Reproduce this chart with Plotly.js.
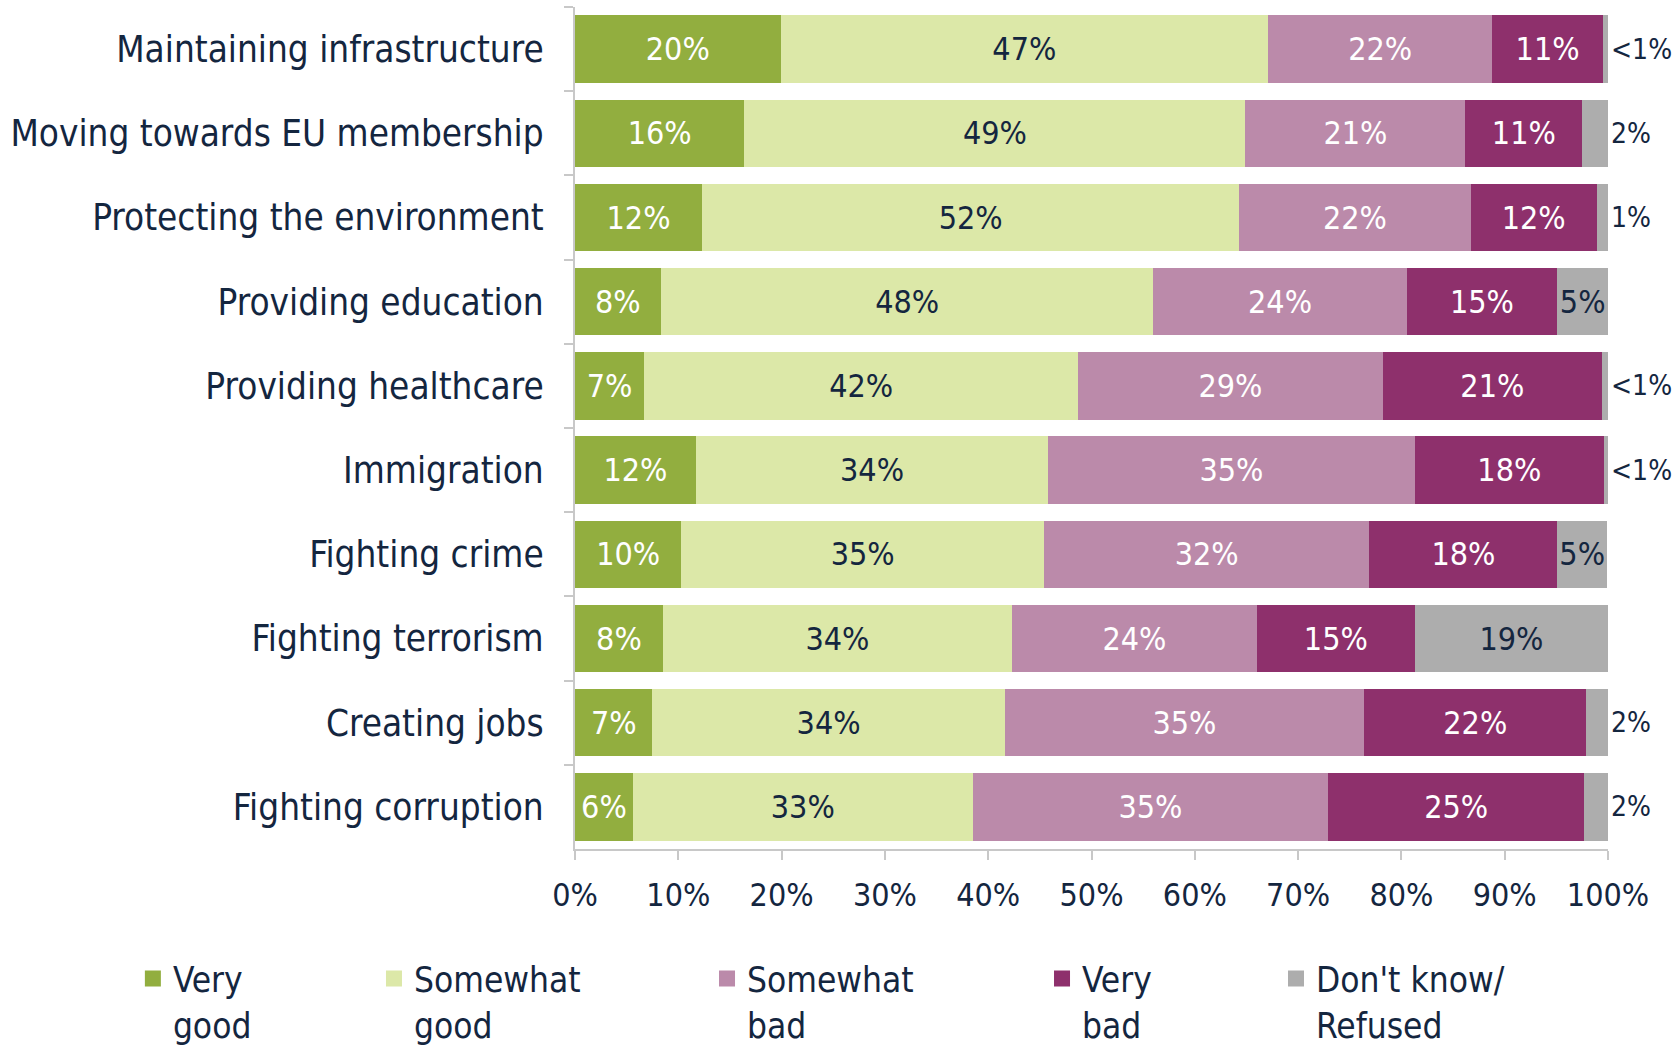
<!DOCTYPE html>
<html>
<head>
<meta charset="utf-8">
<script src="https://cdn.plot.ly/plotly-3.0.1.min.js"></script>
<style>html,body{margin:0;padding:0;background:#fff;}#chart{width:1675px;height:1047px;}</style>
</head>
<body>
<div id="chart"></div>
<script>
const categories = ["Maintaining infrastructure","Moving towards EU membership","Protecting the environment","Providing education","Providing healthcare","Immigration","Fighting crime","Fighting terrorism","Creating jobs","Fighting corruption"];

const veryGood     = [19.9, 16.4, 12.3, 8.3, 6.7, 11.7, 10.3, 8.5, 7.5, 5.6];
const somewhatGood = [47.2, 48.5, 52.0, 47.7, 42.0, 34.1, 35.1, 33.8, 34.1, 32.9];
const somewhatBad  = [21.7, 21.3, 22.4, 24.5, 29.5, 35.5, 31.5, 23.7, 34.8, 34.4];
const veryBad      = [10.7, 11.3, 12.2, 14.6, 21.2, 18.3, 18.2, 15.3, 21.5, 24.8];
const dontKnow     = [0.5, 2.5, 1.1, 4.9, 0.6, 0.4, 4.8, 18.7, 2.1, 2.3];

const veryGoodLabels     = ["20%","16%","12%","8%","7%","12%","10%","8%","7%","6%"];
const somewhatGoodLabels = ["47%","49%","52%","48%","42%","34%","35%","34%","34%","33%"];
const somewhatBadLabels  = ["22%","21%","22%","24%","29%","35%","32%","24%","35%","35%"];
const veryBadLabels      = ["11%","11%","12%","15%","21%","18%","18%","15%","22%","25%"];
const dontKnowLabels     = ["<1%","2%","1%","5%","<1%","<1%","5%","19%","2%","2%"];

const xTickVals = [0,10,20,30,40,50,60,70,80,90,100];
const xTickText = ["0%","10%","20%","30%","40%","50%","60%","70%","80%","90%","100%"];

const seriesNames = ["Very<br>good","Somewhat<br>good","Somewhat<br>bad","Very<br>bad","Don't know/<br>Refused"];

const FONT = "'DejaVu Sans Condensed', 'Liberation Sans Narrow', 'Noto Sans', sans-serif";
const NAVY = "#14263f";
const colors = ["#92ae3f","#dce8a8","#bb8aaa","#8e306c","#adadad"];
const textColors = ["#ffffff", NAVY, "#ffffff", "#ffffff", NAVY];

const vals = [veryGood, somewhatGood, somewhatBad, veryBad, dontKnow];
const labs = [veryGoodLabels, somewhatGoodLabels, somewhatBadLabels, veryBadLabels, dontKnowLabels];
const legendIds = ["legend","legend2","legend3","legend4","legend5"];

const traces = vals.map((v, i) => {
  const t = {
    type: "bar",
    orientation: "h",
    name: seriesNames[i],
    x: v,
    y: categories,
    text: labs[i],
    textposition: "inside",
    insidetextanchor: "middle",
    textangle: 0,
    constraintext: "none",
    cliponaxis: false,
    textfont: {family: FONT, size: 32, color: textColors[i]},
    insidetextfont: {family: FONT, size: 32, color: textColors[i]},
    outsidetextfont: {family: FONT, size: 28, color: NAVY},
    marker: {color: colors[i], line: {width: 0}},
    showlegend: false,
    hoverinfo: "none"
  };
  if (i === 4) {
    t.textposition = v.map(x => x >= 4 ? "inside" : "outside");
  }
  return t;
});

// legend entries (square keys like the reference)
seriesNames.forEach((n, i) => {
  traces.push({
    type: "scatter", mode: "markers",
    name: n, x: [null], y: [null],
    marker: {symbol: "square", size: 19, color: colors[i]},
    legend: legendIds[i], showlegend: true, hoverinfo: "none"
  });
});

const legendX = [-0.428, -0.1946, 0.1278, 0.4521, 0.6786];
const legendY = -0.119;
function mkLegend(x) {
  return {
    x: x, y: legendY, xanchor: "left", yanchor: "top",
    orientation: "v", valign: "top",
    bgcolor: "rgba(0,0,0,0)", borderwidth: 0,
    font: {family: FONT, size: 35, color: NAVY},
    traceorder: "normal"
  };
}

const layout = {
  width: 1675, height: 1047,
  margin: {l: 575, r: 67, t: 7, b: 198, pad: 0, autoexpand: false},
  paper_bgcolor: "#ffffff", plot_bgcolor: "#ffffff",
  barmode: "stack",
  bargap: 0.2,
  font: {family: FONT, color: NAVY},
  showlegend: true,
  xaxis: {
    range: [0, 100],
    tickvals: xTickVals, ticktext: xTickText,
    ticks: "outside", ticklen: 9, tickcolor: "#c8c8c8", tickwidth: 2,
    showline: true, linecolor: "#c8c8c8", linewidth: 2,
    showgrid: false, zeroline: false,
    tickfont: {family: FONT, size: 32, color: NAVY},
    ticklabelstandoff: 8,
    automargin: false,
    fixedrange: true
  },
  yaxis: {
    autorange: "reversed",
    type: "category",
    ticks: "outside", ticklen: 9, tickcolor: "#c8c8c8", tickwidth: 2,
    tickson: "boundaries",
    showline: true, linecolor: "#c8c8c8", linewidth: 2,
    showgrid: false, zeroline: false,
    tickfont: {family: FONT, size: 36.6, color: NAVY},
    ticklabelstandoff: 22,
    automargin: false,
    fixedrange: true
  }
};
legendIds.forEach((id, i) => { layout[id] = mkLegend(legendX[i]); });

Plotly.newPlot("chart", traces, layout, {displayModeBar: false, staticPlot: true});
</script>
</body>
</html>
